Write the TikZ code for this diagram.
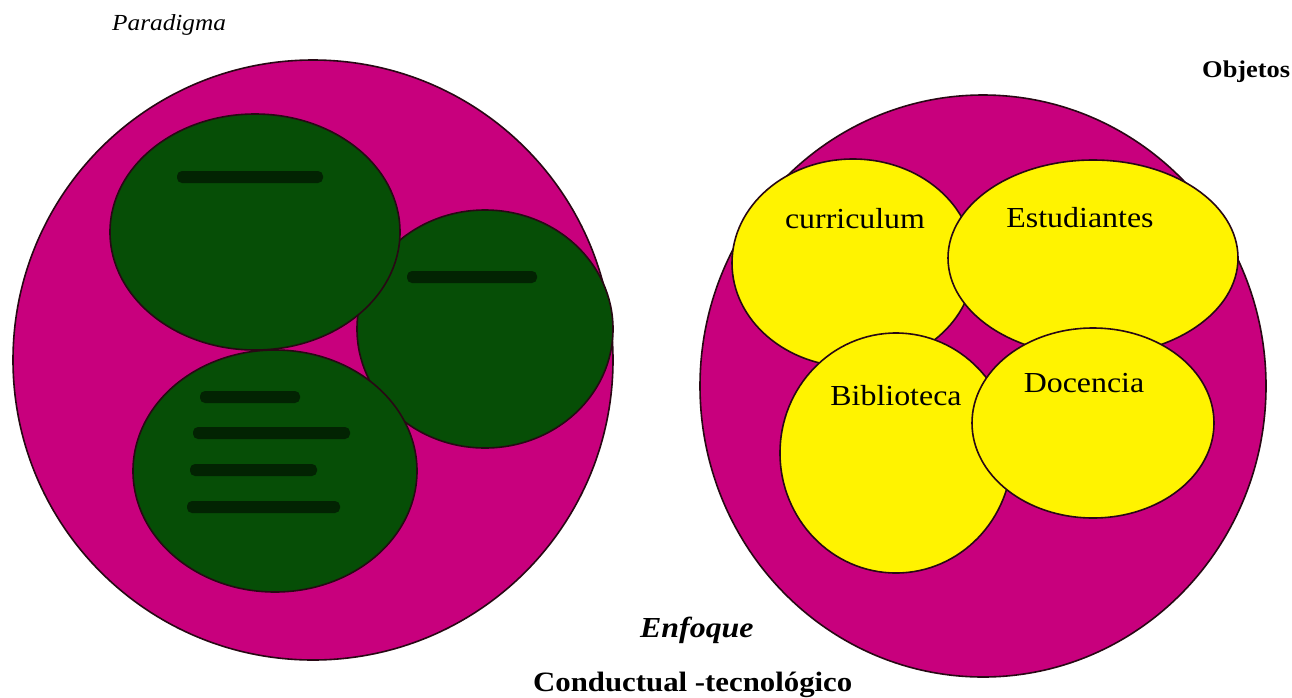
\documentclass[tikz,border=0pt]{standalone}
\usepackage{fontspec}
\setmainfont{Liberation Serif}[FakeStretch=1.1]
\usetikzlibrary{shapes.geometric}
\definecolor{mag}{RGB}{200,0,125}
\definecolor{dgreen}{RGB}{6,78,6}
\definecolor{yel}{RGB}{255,243,0}
\definecolor{edgec}{RGB}{40,8,20}
\begin{document}
\begin{tikzpicture}[x=1pt,y=-1pt,
  blob/.style={ellipse, draw=edgec, line width=1.6pt, inner sep=0pt, outer sep=0pt},
  big/.style={blob, fill=mag},
  grn/.style={blob, fill=dgreen},
  yl/.style={blob, fill=yel},
  lbl/.style={anchor=base, font=\fontsize{29}{32}\selectfont, inner sep=0pt},
  hidden/.style={fill=black, opacity=0.55, rounded corners=5pt}]
\useasboundingbox[fill=white] (0,0) rectangle (1292,697);
% left big circle
\node[big, minimum width=600pt, minimum height=600pt] (paradigm) at (313,360) {};
\node[grn, minimum width=256pt, minimum height=238pt] (g2) at (485,329) {};
\node[grn, minimum width=290pt, minimum height=236pt] (g1) at (255,232) {};
\node[grn, minimum width=284pt, minimum height=242pt] (g3) at (275,471) {};
% illegible dark text inside the green circles
\fill[hidden] (177,171) rectangle (323,183);
\fill[hidden] (407,271) rectangle (537,283);
\fill[hidden] (200,391) rectangle (300,403);
\fill[hidden] (193,427) rectangle (350,439);
\fill[hidden] (190,464) rectangle (317,476);
\fill[hidden] (187,501) rectangle (340,513);
% right big circle
\node[big, minimum width=566pt, minimum height=582pt] (objects) at (983,386) {};
\node[yl, minimum width=242pt, minimum height=208pt] (cur) at (853,263) {};
\node[yl, minimum width=290pt, minimum height=196pt] (est) at (1093,258) {};
\node[yl, minimum width=232pt, minimum height=240pt] (bib) at (896,453) {};
\node[yl, minimum width=242pt, minimum height=190pt] (doc) at (1093,423) {};
\node[lbl] (tcur) at (855,228) {curriculum};
\node[lbl] (test) at (1080,227) {Estudiantes};
\node[lbl] (tbib) at (896,405) {Biblioteca};
\node[lbl] (tdoc) at (1084,392) {Docencia};
% free labels
\node[anchor=base west, inner sep=0pt, font=\fontsize{23}{26}\selectfont\itshape] (tpar) at (112,30) {Paradigma};
\node[anchor=base west, inner sep=0pt, font=\fontsize{24}{26}\selectfont\bfseries] (tobj) at (1202,77) {Objetos};
\node[anchor=base west, inner sep=0pt, font=\fontsize{29}{32}\selectfont\bfseries\itshape] (tenf) at (640,637) {Enfoque};
\node[anchor=base west, inner sep=0pt, font=\fontsize{28}{32}\selectfont\bfseries] (tcon) at (533,691) {Conductual -tecnológico};
\end{tikzpicture}
\end{document}
